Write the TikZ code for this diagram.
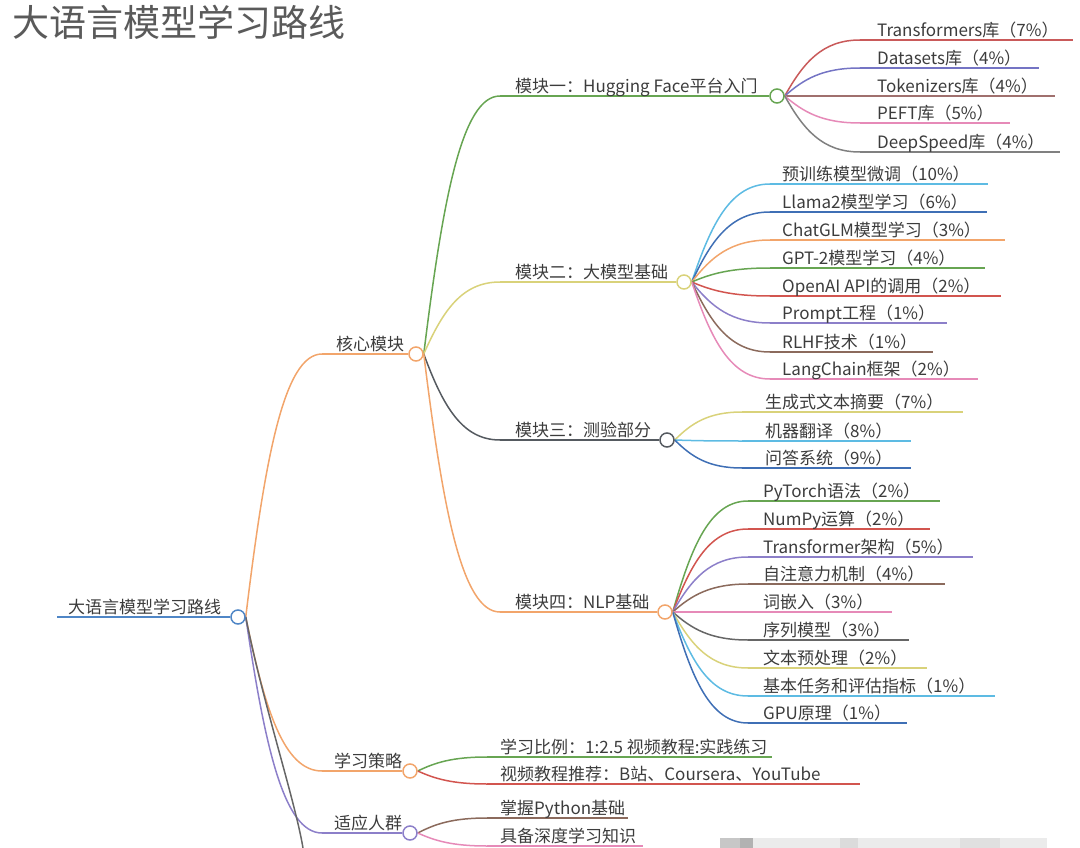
\documentclass[tikz,border=0pt]{standalone}
\usepackage{fontspec}
\setmainfont{Noto Sans CJK SC}
\usetikzlibrary{calc}
\pgfdeclarelayer{bg}
\pgfsetlayers{bg,main}
\definecolor{txt}{HTML}{3C3C3C}
\definecolor{ttl}{HTML}{5A5A5A}
\definecolor{cgreen}{HTML}{67A552}
\definecolor{cyellow}{HTML}{D9D27A}
\definecolor{corange}{HTML}{F2A56B}
\definecolor{cgray}{HTML}{555A60}
\definecolor{cblue}{HTML}{4F86C6}
\definecolor{cpurple}{HTML}{8C7FC9}
\definecolor{cred}{HTML}{D2554F}
\definecolor{clblue}{HTML}{5DBBE3}
\definecolor{cdblue}{HTML}{3F6FB5}
\definecolor{cbrown}{HTML}{8B6A5C}
\definecolor{cpink}{HTML}{E68AB8}
\definecolor{clgray}{HTML}{808080}
\definecolor{cdgray}{HTML}{666666}
\definecolor{cmauve}{HTML}{A0706E}
\definecolor{ctrred}{HTML}{C95A5A}
\definecolor{cdsblue}{HTML}{7474C4}
\newcommand\mmconn[3]{\draw[ln,#1] let \p1=(#2), \p2=(#3) in (\p1) .. controls ({\x1+0.25*(\x2-\x1)},{\y1+0.6*(\y2-\y1)}) and ({\x1+0.5*(\x2-\x1)},\y2) .. (\p2);}
% #1 parent, #2 name, #3 y, #4 xs, #5 xt, #6 xe, #7 colour, #8 text
\newcommand\mmleaf[8]{%
  \coordinate (#2-s) at (#4,#3);
  \coordinate (#2-e) at (#6,#3);
  \node[lbl] (#2) at (#5,#3-3.5) {#8};
  \begin{pgfonlayer}{bg}
    \mmconn{#7}{#1.east}{#2-s}
    \draw[ln,#7] (#2-s) -- (#2-e);
  \end{pgfonlayer}
}
% #1 parent, #2 name, #3 y, #4 xs, #5 xt, #6 xc, #7 colour, #8 text
\newcommand\mmtopic[8]{%
  \coordinate (#2-s) at (#4,#3);
  \node[dot,draw=#7] (#2-c) at (#6,#3) {};
  \node[lbl] (#2) at (#5,#3-3.5) {#8};
  \begin{pgfonlayer}{bg}
    \mmconn{#7}{#1.east}{#2-s}
    \draw[ln,#7] (#2-s) -- (#2-c.west);
  \end{pgfonlayer}
}
\begin{document}
\begin{tikzpicture}[x=1pt,y=-1pt,
  lbl/.style={inner sep=0pt,anchor=base west,text=txt,font=\fontsize{17}{20}\selectfont},
  dot/.style={circle,minimum size=14pt,inner sep=0pt,fill=white,line width=1.5pt},
  ln/.style={line width=1.5pt}]
\useasboundingbox (0,0) rectangle (1080,848);
% watermark-like blur at bottom
\fill[black!8] (720,838) rectangle (1047,848);
\fill[black!22] (720,838) rectangle (740,848);
\fill[black!30] (740,838) rectangle (753,848);
\fill[black!14] (840,838) rectangle (858,848);
\fill[black!12] (960,838) rectangle (1000,848);
% title
\node[inner sep=0pt,anchor=base west,text=ttl,font=\fontsize{37}{40}\selectfont] (title) at (12,37) {大语言模型学习路线};
% root
\coordinate (root-s) at (57,617);
\node[dot,draw=cblue] (root-c) at (238,617) {};
\node[lbl] (root) at (68,613.5) {大语言模型学习路线};
\begin{pgfonlayer}{bg}
  \draw[ln,cblue] (root-s) -- (root-c.west);
\end{pgfonlayer}
% first level
\mmtopic{root-c}{core}{354}{322}{336}{416}{corange}{核心模块}
\mmtopic{root-c}{strat}{771}{322}{334}{410}{corange}{学习策略}
\mmtopic{root-c}{crowd}{833}{322}{334}{410}{cpurple}{适应人群}
\coordinate (more) at (303,848);
\begin{pgfonlayer}{bg}
  \draw[ln,cdgray] (root-c.east) .. controls (262,700) and (295,800) .. (more);
\end{pgfonlayer}
% modules
\mmtopic{core-c}{m1}{96}{500}{515}{777}{cgreen}{模块一：Hugging Face平台入门}
\mmtopic{core-c}{m2}{282}{500}{515}{684}{cyellow}{模块二：大模型基础}
\mmtopic{core-c}{m3}{440}{500}{515}{667}{cgray}{模块三：测验部分}
\mmtopic{core-c}{m4}{612}{500}{515}{665}{corange}{模块四：NLP基础}
% module 1 leaves
\mmleaf{m1-c}{a1}{40}{860}{877}{1073}{ctrred}{Transformers库（7\%）}
\mmleaf{m1-c}{a2}{68}{860}{877}{1039}{cdsblue}{Datasets库（4\%）}
\mmleaf{m1-c}{a3}{96}{860}{877}{1055}{cmauve}{Tokenizers库（4\%）}
\mmleaf{m1-c}{a4}{123}{860}{877}{1010}{cpink}{PEFT库（5\%）}
\mmleaf{m1-c}{a5}{152}{860}{877}{1060}{clgray}{DeepSpeed库（4\%）}
% module 2 leaves
\mmleaf{m2-c}{b1}{184}{770}{782}{988}{clblue}{预训练模型微调（10\%）}
\mmleaf{m2-c}{b2}{212}{770}{782}{987}{cdblue}{Llama2模型学习（6\%）}
\mmleaf{m2-c}{b3}{240}{770}{782}{1005}{corange}{ChatGLM模型学习（3\%）}
\mmleaf{m2-c}{b4}{268}{770}{782}{985}{cgreen}{GPT-2模型学习（4\%）}
\mmleaf{m2-c}{b5}{296}{770}{782}{1001}{cred}{OpenAI API的调用（2\%）}
\mmleaf{m2-c}{b6}{323}{770}{782}{947}{cpurple}{Prompt工程（1\%）}
\mmleaf{m2-c}{b7}{352}{770}{782}{933}{cbrown}{RLHF技术（1\%）}
\mmleaf{m2-c}{b8}{379}{770}{782}{978}{cpink}{LangChain框架（2\%）}
% module 3 leaves
\mmleaf{m3-c}{c1}{412}{742}{765}{963}{cyellow}{生成式文本摘要（7\%）}
\mmleaf{m3-c}{c2}{441}{742}{765}{911}{clblue}{机器翻译（8\%）}
\mmleaf{m3-c}{c3}{468}{742}{765}{911}{cdblue}{问答系统（9\%）}
% module 4 leaves
\mmleaf{m4-c}{d1}{501}{748}{763}{940}{cgreen}{PyTorch语法（2\%）}
\mmleaf{m4-c}{d2}{529}{748}{763}{930}{cred}{NumPy运算（2\%）}
\mmleaf{m4-c}{d3}{557}{748}{763}{973}{cpurple}{Transformer架构（5\%）}
\mmleaf{m4-c}{d4}{584}{748}{763}{945}{cbrown}{自注意力机制（4\%）}
\mmleaf{m4-c}{d5}{612}{748}{763}{892}{cpink}{词嵌入（3\%）}
\mmleaf{m4-c}{d6}{640}{748}{763}{909}{cdgray}{序列模型（3\%）}
\mmleaf{m4-c}{d7}{668}{748}{763}{927}{cyellow}{文本预处理（2\%）}
\mmleaf{m4-c}{d8}{696}{748}{763}{995}{clblue}{基本任务和评估指标（1\%）}
\mmleaf{m4-c}{d9}{723}{748}{763}{907}{cdblue}{GPU原理（1\%）}
% strategy leaves
\mmleaf{strat-c}{e1}{757}{487}{500}{772}{cgreen}{学习比例：1:2.5 视频教程:实践练习}
\mmleaf{strat-c}{e2}{784}{487}{500}{860}{cred}{视频教程推荐：B站、Coursera、YouTube}
% audience leaves
\mmleaf{crowd-c}{f1}{818}{487}{500}{628}{cbrown}{掌握Python基础}
\mmleaf{crowd-c}{f2}{846}{487}{500}{643}{cpink}{具备深度学习知识}
\end{tikzpicture}
\end{document}
